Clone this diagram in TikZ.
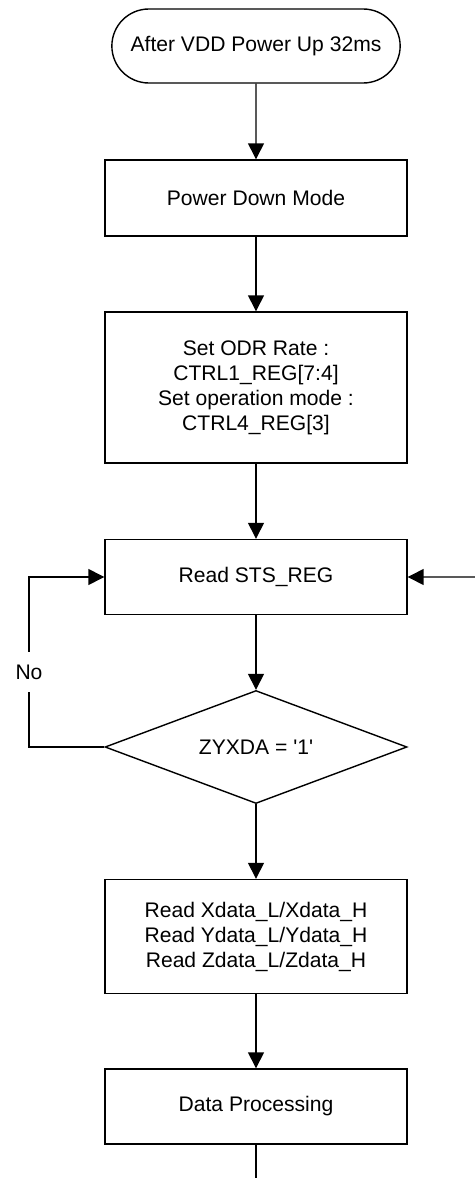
\documentclass[tikz,border=0pt]{standalone}
\usepackage{fontspec}
\setmainfont{Liberation Sans}
\usetikzlibrary{shapes.geometric, shapes.misc, arrows.meta}
\tikzstyle{startStop} = [rounded rectangle, minimum width=6cm, minimum height=1.48cm, text centered, draw=black, line width=0.8pt]
\tikzstyle{process} = [rectangle, minimum width=6.04cm, text centered, align=center, draw=black, line width=0.8pt]
\tikzstyle{decision} = [diamond, aspect=2.67, inner sep=0pt, minimum width=6.04cm, minimum height=2.26cm, text centered, draw=black, line width=0.8pt]
\tikzstyle{arrow} = [line width=0.8pt,->,>={Triangle[length=9pt,width=9pt]}]

\begin{document}
\begin{tikzpicture} [node distance=3.79cm, font=\fontsize{12}{14.2}\selectfont]
        \useasboundingbox (0,0) rectangle (9.5,-23.56);

        \node (start) [startStop] at (5.12,-0.92) {After VDD Power Up 32ms};
        \node (powerDown) [process, minimum height=1.52cm, below of=start, yshift=0.75cm] {Power Down Mode};
        \node (setOdr) [process, minimum height=3.02cm, below of=powerDown] {Set ODR Rate :\\CTRL1\_REG[7:4]\\Set operation mode :\\CTRL4\_REG[3]};
        \node (readSts) [process, minimum height=1.5cm, below of=setOdr] {Read STS\_REG};
        \node (zyxda) [decision, below of=readSts, yshift=0.39cm] {ZYXDA = \textquotesingle1\textquotesingle};
        \node (readData) [process, minimum height=2.28cm, below of=zyxda] {Read Xdata\_L/Xdata\_H\\Read Ydata\_L/Ydata\_H\\Read Zdata\_L/Zdata\_H};
        \node (dataProc) [process, minimum height=1.5cm, below of=readData, yshift=0.39cm] {Data Processing};

        \node (noLabel) [inner xsep=2pt, inner ysep=7pt] at (0.58,-13.44) {No};
        \coordinate (loopBack) at (9.5,-11.54);
        \coordinate (tail) at (5.12,-23.56);

        \draw[arrow] (start) -- (powerDown);
        \draw[arrow] (powerDown) -- (setOdr);
        \draw[arrow] (setOdr) -- (readSts);
        \draw[arrow] (readSts) -- (zyxda);
        \draw[arrow] (zyxda) -- (readData);
        \draw[arrow] (readData) -- (dataProc);

        \draw[line width=0.8pt] (zyxda.west) -| (noLabel.south);
        \draw[arrow] (noLabel.north) |- (readSts.west);
        \draw[arrow] (loopBack) -- (readSts.east);
        \draw[line width=0.8pt] (dataProc) -- (tail);

    \end{tikzpicture}
\end{document}
